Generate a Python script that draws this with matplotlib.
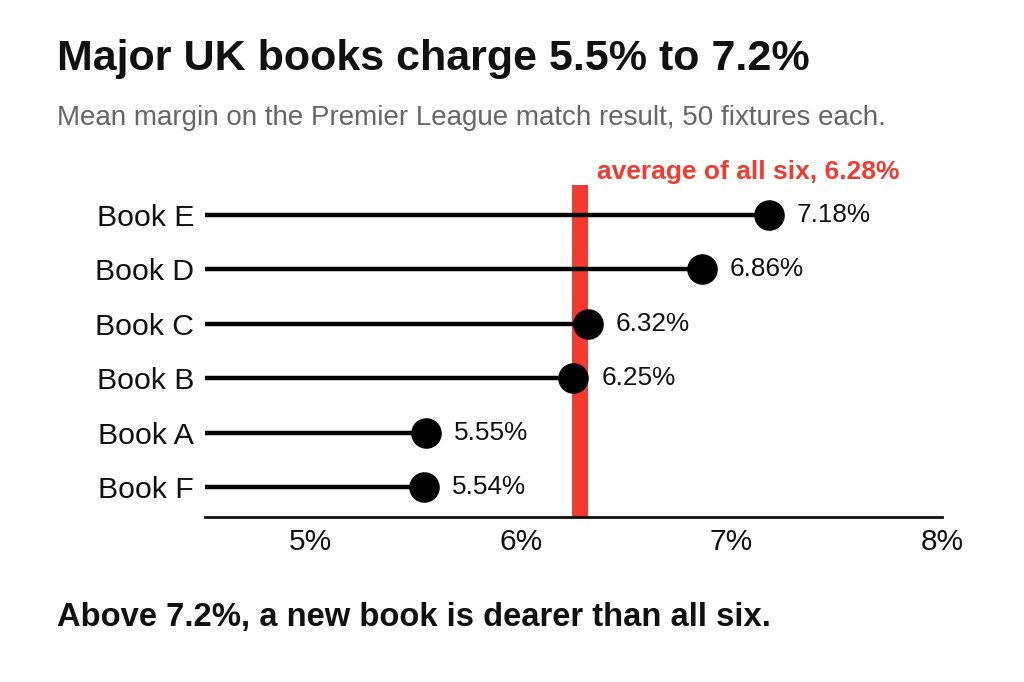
import matplotlib.pyplot as plt

plt.rcParams['font.family'] = ['Liberation Sans', 'DejaVu Sans']

books = ['Book F', 'Book A', 'Book B', 'Book C', 'Book D', 'Book E']
margins = [5.54, 5.55, 6.25, 6.32, 6.86, 7.18]
average = 6.28
ticks = [5, 6, 7, 8]
tick_labels = ['5%', '6%', '7%', '8%']

red = '#f23b2f'

fig = plt.figure(figsize=(10.24, 6.82), dpi=100)
ax = fig.add_axes([0.2002, 0.2419, 0.7197, 0.4868])

ypos = list(range(len(books)))
xmin = 4.5

ax.axvline(average, color=red, lw=11.5, zorder=1, solid_capstyle='butt')
ax.hlines(ypos, xmin, margins, color='black', lw=3.2, zorder=2)
ax.plot(margins, ypos, 'o', color='black', ms=21, zorder=3)

for y, m in zip(ypos, margins):
    ax.annotate(f'{m:.2f}%', (m, y), xytext=(20, 0), textcoords='offset points',
                va='center', ha='left', fontsize=18.8, color='#111111')

ax.text(0.532, 1.04, f'average of all six, {average:.2f}%', transform=ax.transAxes,
        color=red, fontsize=19, fontweight='bold', ha='left', va='center')

ax.set_xlim(xmin, 8.0)
ax.set_ylim(-0.55, 5.55)
ax.set_yticks(ypos)
ax.set_yticklabels(books, fontsize=21.8, color='#111111')
ax.set_xticks(ticks)
ax.set_xticklabels(tick_labels, fontsize=21.5, color='#111111')
ax.tick_params(length=0, axis='y', pad=8)
ax.tick_params(length=0, axis='x', pad=8)

for s in ['top', 'right', 'left']:
    ax.spines[s].set_visible(False)
ax.spines['bottom'].set_linewidth(2)
ax.spines['bottom'].set_color('#111111')

fig.text(0.0557, 0.914, 'Major UK books charge 5.5% to 7.2%', fontsize=31,
         fontweight='bold', color='#111111', va='center', ha='left')
fig.text(0.0557, 0.827, 'Mean margin on the Premier League match result, 50 fixtures each.',
         fontsize=20, color='#666666', va='center', ha='left')
fig.text(0.0557, 0.094, 'Above 7.2%, a new book is dearer than all six.', fontsize=23.6,
         fontweight='bold', color='#111111', va='center', ha='left')

fig.savefig('out.png', dpi=100, facecolor='white')
